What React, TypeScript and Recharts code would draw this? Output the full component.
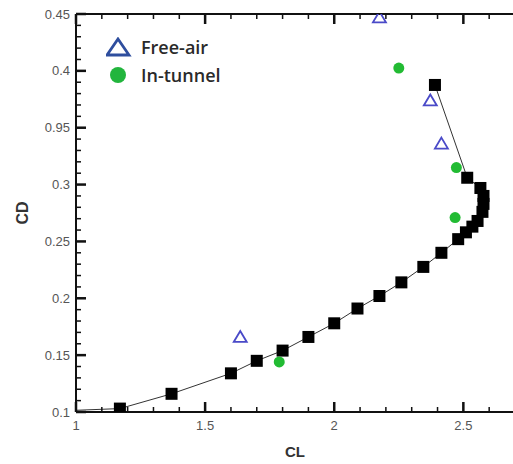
import { ScatterChart, Scatter, XAxis, YAxis, ReferenceLine } from 'recharts';

// measured CL / CD polar (black squares, joined by a line)
const squareCL = [1.17, 1.37, 1.6, 1.7, 1.8, 1.9, 2.0, 2.09, 2.175, 2.26, 2.345, 2.415, 2.48, 2.51, 2.535, 2.555, 2.574, 2.578, 2.578, 2.566, 2.515, 2.39];
const squareCD = [0.103, 0.116, 0.134, 0.145, 0.154, 0.166, 0.178, 0.191, 0.202, 0.214, 0.2276, 0.24, 0.252, 0.258, 0.263, 0.268, 0.276, 0.283, 0.29, 0.297, 0.306, 0.3876];
// the curve runs on to the left edge of the plot
const lineStartCL = [1.0];
const lineStartCD = [0.1015];

const freeAirCL = [1.636, 2.175, 2.372, 2.415];
const freeAirCD = [0.166, 0.447, 0.374, 0.336];

const tunnelCL = [1.787, 2.25, 2.468, 2.473];
const tunnelCD = [0.144, 0.4025, 0.271, 0.315];

const xMajorTicks = [1, 1.5, 2, 2.5];
const xTickLabels = ['1', '1.5', '2', '2.5'];
const xMinorTicks = [1.1, 1.2, 1.3, 1.4, 1.6, 1.7, 1.8, 1.9, 2.1, 2.2, 2.3, 2.4, 2.6];

const yMajorTicks = [0.1, 0.15, 0.2, 0.25, 0.3, 0.35, 0.4, 0.45];
const yTickLabels = ['0.1', '0.15', '0.2', '0.25', '0.3', '0.95', '0.4', '0.45'];
const yMinorTicks = [
  0.11, 0.12, 0.13, 0.14, 0.16, 0.17, 0.18, 0.19, 0.21, 0.22, 0.23, 0.24,
  0.26, 0.27, 0.28, 0.29, 0.31, 0.32, 0.33, 0.34, 0.36, 0.37, 0.38, 0.39,
  0.41, 0.42, 0.43, 0.44,
];

const X_DOMAIN: [number, number] = [1, 2.7];
const Y_DOMAIN: [number, number] = [0.1, 0.45];
const CHART_W = 520;
const CHART_H = 464;
const PLOT_LEFT = 76;
const PLOT_RIGHT = 515;
const PLOT_TOP = 14;
const PLOT_BOTTOM = 412;
const AXIS = '#111';
const TICK_FONT = '"Liberation Sans", Arial, sans-serif';

const zip = (xs: number[], ys: number[]) => xs.map((x, i) => ({ cl: x, cd: ys[i] }));

const curveData = zip([...lineStartCL, ...squareCL], [...lineStartCD, ...squareCD]);
const squareData = zip(squareCL, squareCD);
const freeAirData = zip(freeAirCL, freeAirCD);
const tunnelData = zip(tunnelCL, tunnelCD);

// bottom axis tick: inward marks at bottom and top edge (filled rects) + label
const renderXTick = (props: any) => {
  const { x, payload } = props;
  const i = xMajorTicks.indexOf(payload.value);
  const len = i >= 0 ? 10 : 5;
  const w = i >= 0 ? 2.5 : 1.5;
  return (
    <g key={`xt-${payload.value}`}>
      <rect x={x - w / 2} y={PLOT_BOTTOM - len} width={w} height={len} fill={AXIS} />
      <rect x={x - w / 2} y={PLOT_TOP} width={w} height={len} fill={AXIS} />
      {i >= 0 && (
        <text x={x} y={PLOT_BOTTOM + 18} textAnchor="middle" fontSize={13} fontFamily={TICK_FONT} fill="#555">
          {xTickLabels[i]}
        </text>
      )}
    </g>
  );
};

const renderYTick = (props: any) => {
  const { y, payload } = props;
  const i = yMajorTicks.indexOf(payload.value);
  const len = i >= 0 ? 10 : 5;
  const w = i >= 0 ? 2.5 : 1.5;
  return (
    <g key={`yt-${payload.value}`}>
      <rect x={PLOT_LEFT} y={y - w / 2} width={len} height={w} fill={AXIS} />
      {i >= 0 && (
        <text x={PLOT_LEFT - 6} y={y + 4.5} textAnchor="end" fontSize={13} fontFamily={TICK_FONT} fill="#555">
          {yTickLabels[i]}
        </text>
      )}
    </g>
  );
};

const SquareDot = ({ cx, cy }: any) => <rect x={cx - 6} y={cy - 6} width={12} height={12} fill="#000" />;
const TriangleDot = ({ cx, cy }: any) => (
  <polygon points={`${cx},${cy - 6} ${cx + 6.5},${cy + 5} ${cx - 6.5},${cy + 5}`} fill="none" stroke="#4a4ac8" strokeWidth={1.8} />
);
const CircleDot = ({ cx, cy }: any) => <circle cx={cx} cy={cy} r={5.5} fill="#22bb33" />;
const NoDot = () => <g />;

export default function App() {
  return (
    <div style={{ position: 'absolute', left: 0, top: 0, width: 513, height: 464, overflow: 'hidden', background: '#fff' }}>
      <ScatterChart width={CHART_W} height={CHART_H} margin={{ top: PLOT_TOP, right: CHART_W - PLOT_RIGHT, bottom: 0, left: 0 }}>
        <XAxis
          type="number"
          dataKey="cl"
          domain={X_DOMAIN}
          allowDataOverflow
          ticks={[...xMajorTicks, ...xMinorTicks]}
          interval={0}
          tickSize={0}
          tickMargin={0}
          tickLine={false}
          tick={renderXTick}
          axisLine={{ stroke: AXIS, strokeWidth: 2 }}
          height={CHART_H - PLOT_BOTTOM}
        />
        <YAxis
          type="number"
          dataKey="cd"
          domain={Y_DOMAIN}
          allowDataOverflow
          ticks={[...yMajorTicks, ...yMinorTicks]}
          interval={0}
          tickSize={0}
          tickMargin={0}
          tickLine={false}
          tick={renderYTick}
          axisLine={{ stroke: AXIS, strokeWidth: 2 }}
          width={PLOT_LEFT}
        />
        <ReferenceLine y={Y_DOMAIN[1]} stroke={AXIS} strokeWidth={2} />
        <Scatter data={curveData} line={{ stroke: '#333', strokeWidth: 1 }} shape={<NoDot />} isAnimationActive={false} />
        <Scatter data={squareData} shape={<SquareDot />} isAnimationActive={false} />
        <Scatter data={freeAirData} shape={<TriangleDot />} isAnimationActive={false} />
        <Scatter data={tunnelData} shape={<CircleDot />} isAnimationActive={false} />
      </ScatterChart>

      <div style={{ position: 'absolute', left: 295, top: 443, transform: 'translate(-50%, 0)', fontFamily: TICK_FONT, fontWeight: 'bold', fontSize: 15, color: '#333' }}>
        CL
      </div>
      <div style={{ position: 'absolute', left: 23, top: 213, transform: 'translate(-50%, -50%) rotate(-90deg)', fontFamily: TICK_FONT, fontWeight: 'bold', fontSize: 16, color: '#333' }}>
        CD
      </div>

      <div style={{ position: 'absolute', left: 106, top: 33, fontFamily: '"Open Sans", sans-serif', fontWeight: 600, fontSize: 18, color: '#2a2a2a', lineHeight: '28px' }}>
        <div style={{ display: 'flex', alignItems: 'center' }}>
          <svg width={26} height={20} style={{ marginRight: 9 }}>
            <polygon points="12,2 23,18 1,18" fill="none" stroke="#2e4e9e" strokeWidth={2.8} />
          </svg>
          Free-air
        </div>
        <div style={{ display: 'flex', alignItems: 'center' }}>
          <svg width={26} height={20} style={{ marginRight: 9 }}>
            <circle cx={12} cy={10} r={8} fill="#22b53d" />
          </svg>
          In-tunnel
        </div>
      </div>
    </div>
  );
}
